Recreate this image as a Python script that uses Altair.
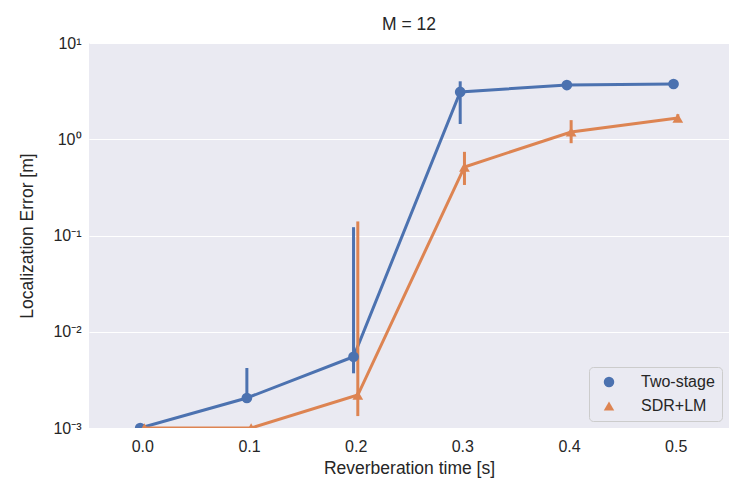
import altair as alt
import pandas as pd

# ---- data ----
rt_labels = ["0.0", "0.1", "0.2", "0.3", "0.4", "0.5"]
methods = ["Two-stage", "SDR+LM"]

two_stage_mean = [1.0e-3, 2.05e-3, 5.5e-3, 3.1, 3.66, 3.75]
two_stage_lo = [1.0e-3, 1.95e-3, 3.7e-3, 1.44, 3.55, 3.65]
two_stage_hi = [1.0e-3, 4.2e-3, 0.122, 4.0, 3.78, 3.85]

sdr_lm_mean = [1.0e-3, 1.0e-3, 2.2e-3, 0.515, 1.19, 1.66]
sdr_lm_lo = [1.0e-3, 1.0e-3, 1.33e-3, 0.335, 0.91, 1.52]
sdr_lm_hi = [1.0e-3, 1.0e-3, 0.14, 0.74, 1.58, 1.82]

y_tick_values = [1e-3, 1e-2, 1e-1, 1e0, 1e1]
y_tick_labels = ["10⁻³", "10⁻²", "10⁻¹", "10⁰", "10¹"]

colors = ["#4C72B0", "#DD8452"]
shapes = ["circle", "triangle-up"]

rows = []
for m, mean, lo, hi in [
    (methods[0], two_stage_mean, two_stage_lo, two_stage_hi),
    (methods[1], sdr_lm_mean, sdr_lm_lo, sdr_lm_hi),
]:
    for i, lab in enumerate(rt_labels):
        rows.append({"rt": lab, "idx": i, "method": m,
                     "mean": mean[i], "lo": lo[i], "hi": hi[i]})
df = pd.DataFrame(rows)

FONT = "Liberation Sans"
TXT = "#262626"

x_label_expr = "[" + ",".join(f"'{l}'" for l in rt_labels) + "][datum.value]"
y_label_expr = " : ".join(
    f"abs(log(datum.value)/log(10) - ({v})) < 0.01 ? '{l}'"
    for v, l in zip([-3, -2, -1, 0, 1], y_tick_labels)
) + " : ''"

base = alt.Chart(df).transform_calculate(
    pos="datum.idx + (datum.method == 'Two-stage' ? -0.02 : 0.02)"
)

x = alt.X(
    "pos:Q",
    scale=alt.Scale(domain=[-0.5, 5.5], nice=False, zero=False),
    axis=alt.Axis(values=list(range(len(rt_labels))), labelExpr=x_label_expr,
                  grid=False, ticks=False, domain=False, labelPadding=10,
                  title="Reverberation time [s]", titlePadding=5),
)
yscale = alt.Scale(type="log", domain=[1e-3, 10], nice=False)
legend = alt.Legend(title=None, orient="bottom-right")
color = alt.Color("method:N", scale=alt.Scale(domain=methods, range=colors),
                  legend=legend)

lines = base.mark_line(strokeWidth=3, clip=True).encode(
    x=x,
    y=alt.Y("mean:Q", scale=yscale,
            axis=alt.Axis(values=y_tick_values, labelExpr=y_label_expr,
                          grid=True, gridColor="white", gridWidth=1.2,
                          ticks=False, domain=False, labelPadding=8,
                          title="Localization Error [m]", titlePadding=16)),
    color=color,
    detail="method:N",
)

errs = base.mark_rule(strokeWidth=3, clip=True).encode(
    x="pos:Q",
    y=alt.Y("lo:Q", scale=yscale),
    y2="hi:Q",
    color=color,
)

points = base.mark_point(filled=True, opacity=1, size=115, clip=True).encode(
    x="pos:Q",
    y=alt.Y("mean:Q", scale=yscale),
    color=color,
    shape=alt.Shape("method:N", scale=alt.Scale(domain=methods, range=shapes),
                    legend=legend),
)

chart = (
    alt.layer(lines, errs, points)
    .properties(
        width=640, height=385,
        title=alt.TitleParams("M = 12", fontSize=17.5, font=FONT, color=TXT,
                              fontWeight="normal", offset=2),
        autosize=alt.AutoSizeParams(type="none"),
        padding={"left": 81, "top": 35, "right": 13, "bottom": 56},
    )
    .configure_view(fill="#EAEAF2", stroke=None)
    .configure_axis(labelFont=FONT, titleFont=FONT, labelFontSize=16,
                    titleFontSize=17.5, labelColor=TXT, titleColor=TXT,
                    titleFontWeight="normal")
    .configure_legend(labelFont=FONT, labelFontSize=16, labelColor=TXT,
                      fillColor="#EAEAF2", strokeColor="#CCCCCC",
                      cornerRadius=4, padding=7, offset=7, symbolSize=110,
                      symbolOffset=5, labelOffset=24, rowPadding=8,
                      symbolStrokeWidth=0)
)

chart.save("out.html", embed_options={"renderer": "svg", "actions": False})
